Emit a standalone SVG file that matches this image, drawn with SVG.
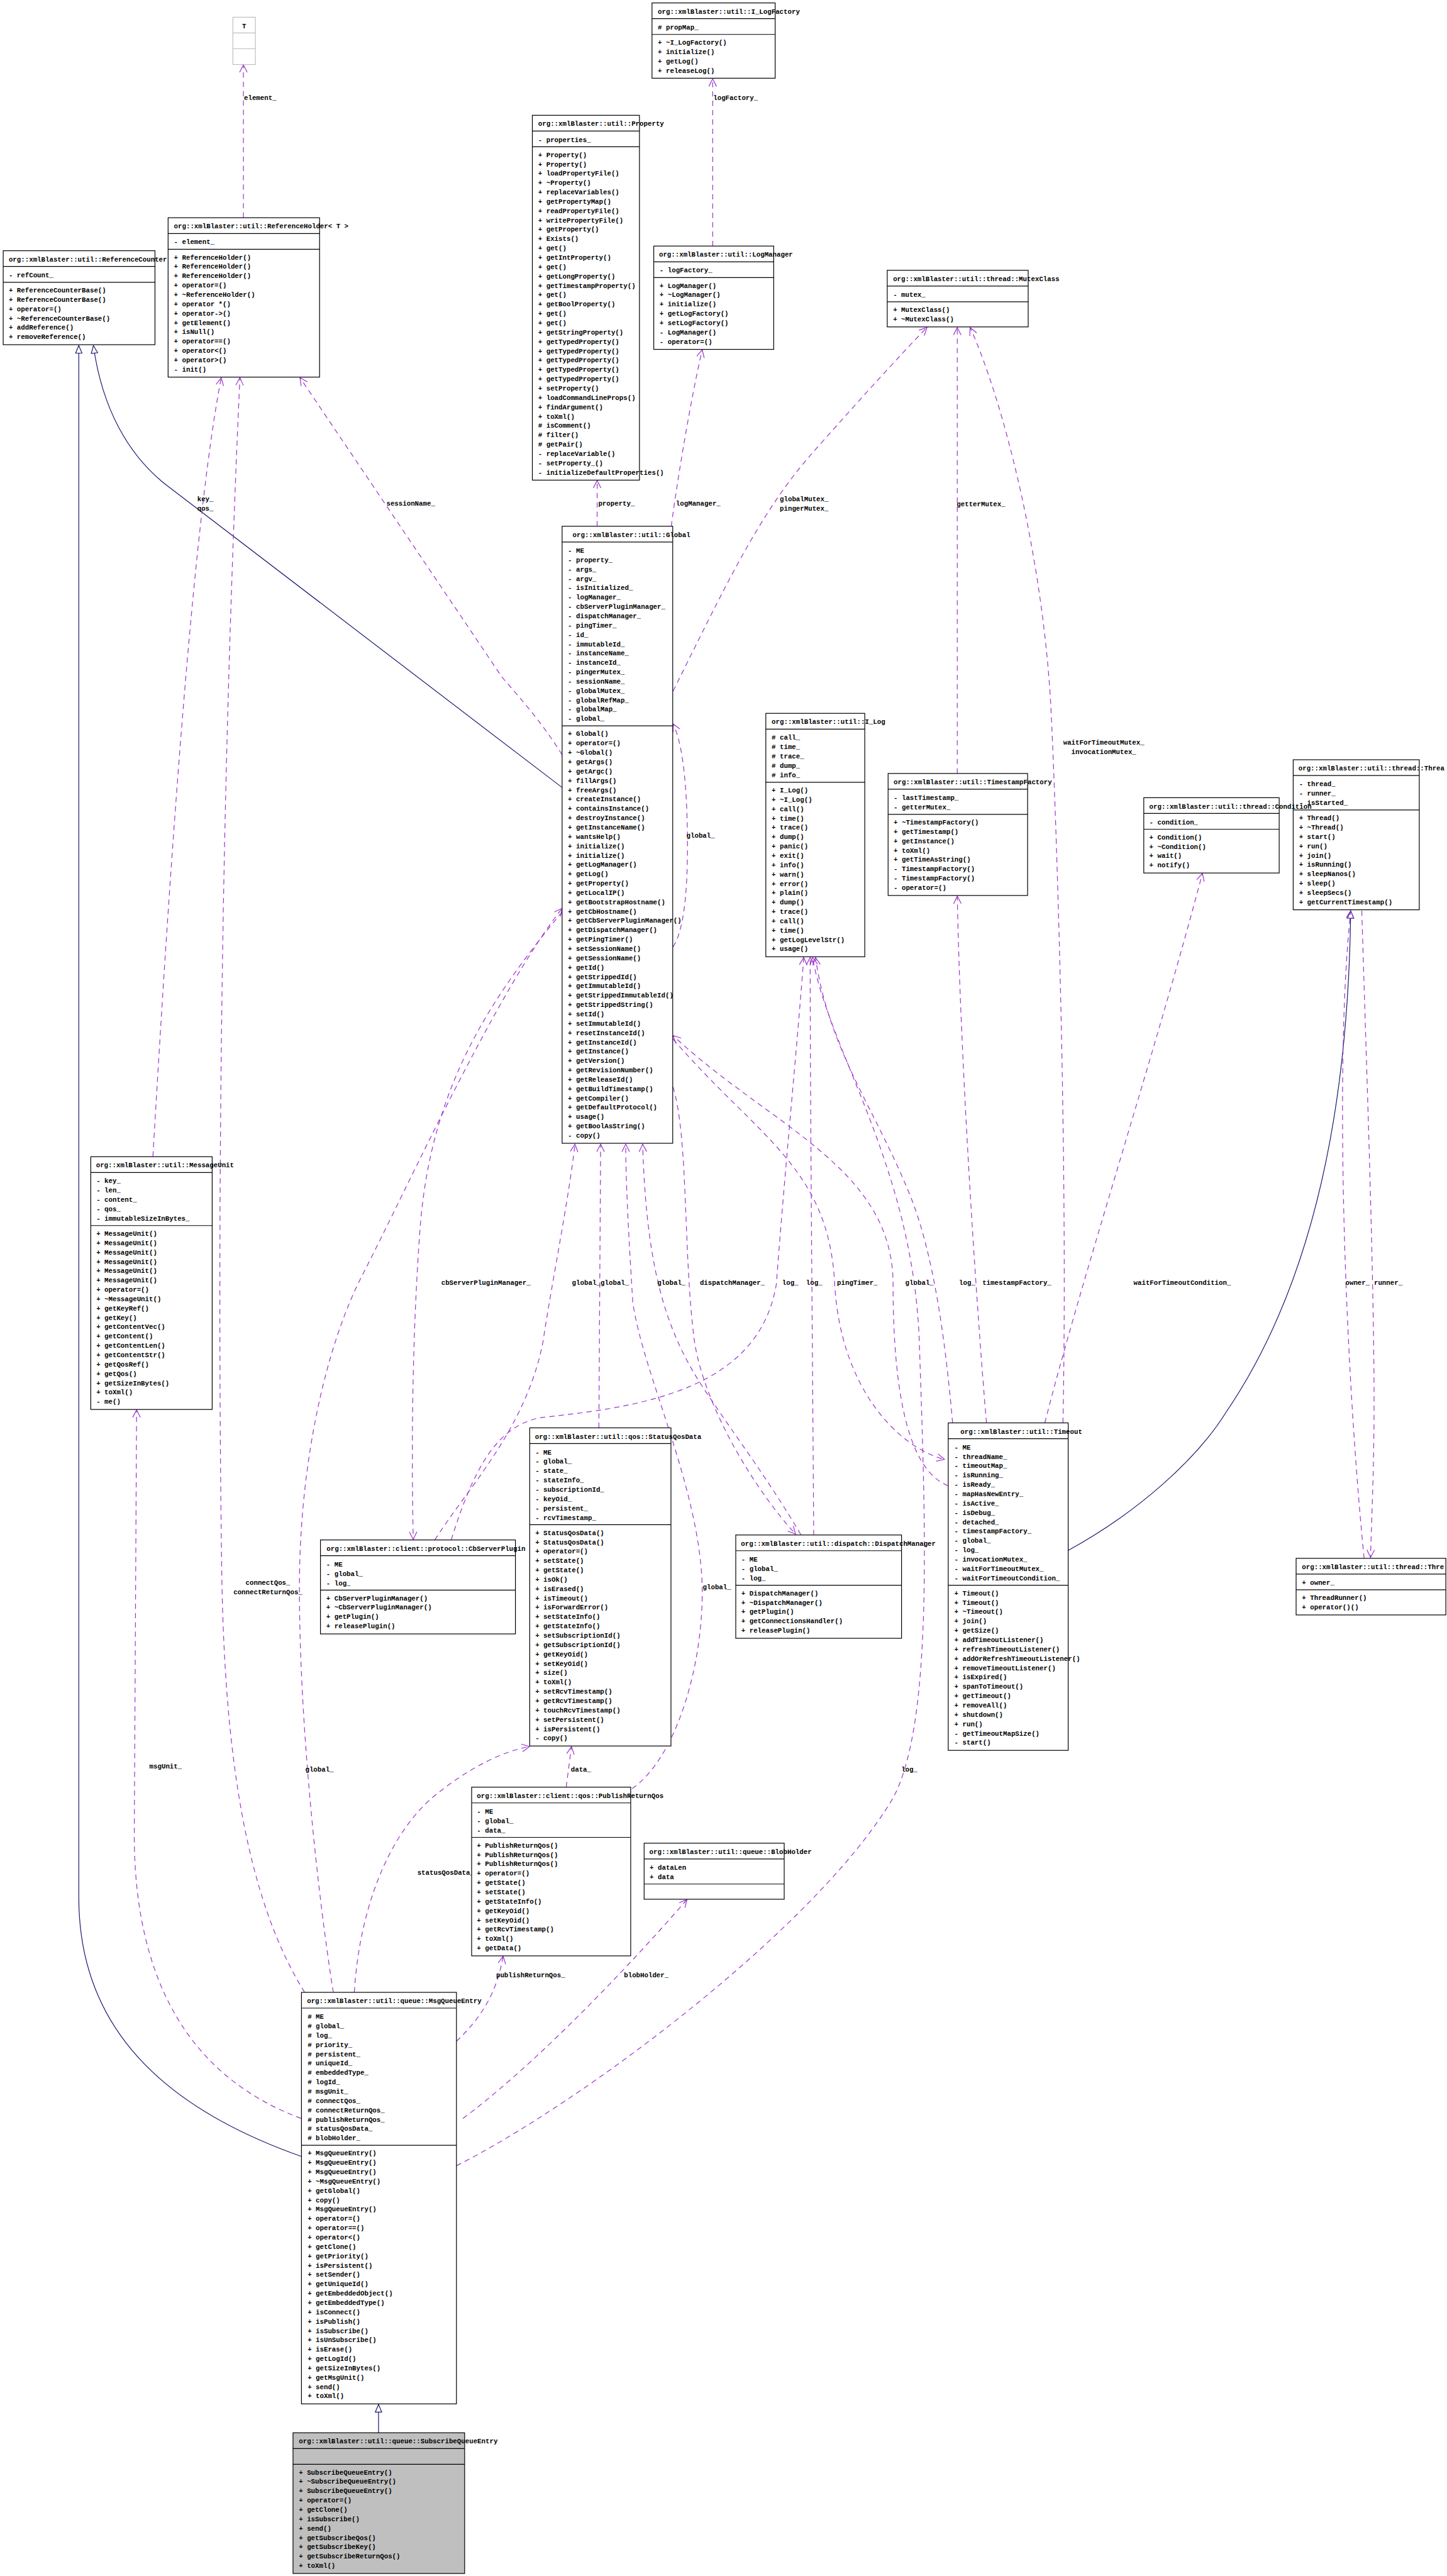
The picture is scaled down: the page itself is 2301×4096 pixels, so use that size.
<svg xmlns="http://www.w3.org/2000/svg" width="2301" height="4096" viewBox="0 0 2301 4096">
<style>
.b{fill:#fff;stroke:#000;stroke-width:1.3}
.gb{fill:#fff;stroke:#bfbfbf;stroke-width:1.3}
.sb{fill:#bfbfbf;stroke:#000;stroke-width:1.3}
.s{stroke:#000;stroke-width:1.3}
.gs{stroke:#bfbfbf;stroke-width:1.3}
.t{font-family:"Liberation Mono","DejaVu Sans Mono",monospace;font-size:11.6px;font-weight:bold;fill:#000}
.e{fill:none;stroke:#9a32cd;stroke-width:1.3;stroke-dasharray:9,7;marker-end:url(#pa)}
.i{fill:none;stroke:#191970;stroke-width:1.3;marker-end:url(#tri)}
</style>
<defs>
<marker id="pa" markerUnits="userSpaceOnUse" viewBox="0 0 16 16" markerWidth="16" markerHeight="16" refX="14" refY="8" orient="auto"><path d="M1,1.5 L14,8 L1,14.5" fill="none" stroke="#9a32cd" stroke-width="1.3"/></marker>
<marker id="tri" markerUnits="userSpaceOnUse" viewBox="0 0 16 14" markerWidth="16" markerHeight="14" refX="14" refY="7" orient="auto"><path d="M1,1.5 L14,7 L1,12.5 Z" fill="#fff" stroke="#191970" stroke-width="1.3"/></marker>
</defs>
<rect width="2301" height="4096" fill="#fff"/>
<g transform="scale(0.9282)">
<g id="connectors">
<path class="i" d="M516,3694 C250,3600 135,3450 135,3250 L135,592"/>
<path class="i" d="M963,1349 L285,831 C220,780 175,700 160,592"/>
<path class="i" d="M1830,2656 C1950,2590 2050,2500 2100,2420 C2250,2200 2310,1900 2314,1560"/>
<path class="i" d="M648.5,4167.5 L648.5,4119"/>
<path class="e" d="M417,373 L417,111"/>
<path class="e" d="M1221,421.5 L1221,135"/>
<path class="e" d="M1023,901.5 L1023,823"/>
<path class="e" d="M1150,901.5 C1158,840 1180,700 1203,599"/>
<path class="e" d="M1153,1184 C1240,1010 1300,880 1390,778 C1450,710 1540,610 1588,561"/>
<path class="e" d="M963,1293 C930,1240 895,1200 860,1160 L514,647"/>
<path class="e" d="M262,1981 C290,1500 330,900 379,647"/>
<path class="e" d="M522,3413 C420,3250 385,3000 380,2700 C374,2300 372,1500 411,647"/>
<path class="e" d="M571,3413 C545,3250 512,2950 513,2711 C514,2500 560,2300 622,2182 C700,2030 850,1700 963,1556"/>
<path class="e" d="M516,3629 C330,3560 232,3400 230,3150 L234,2415"/>
<path class="e" d="M607,3413 C615,3280 660,3150 740,3080 C800,3030 860,3000 907,2992"/>
<path class="e" d="M970,3061.5 L979,2992"/>
<path class="e" d="M1083,3064 C1160,3010 1205,2850 1203,2720 C1200,2550 1100,2350 1084,2230 C1076,2100 1072,2020 1072,1960"/>
<path class="e" d="M1026,2446 L1029,1960"/>
<path class="e" d="M745,2638 C800,2550 900,2450 930,2300 C945,2200 975,2050 985,1960"/>
<path class="e" d="M963,1562 C850,1700 740,1850 720,2100 C705,2300 705,2500 708,2637"/>
<path class="e" d="M773,2638 C810,2520 850,2440 930,2428 C1100,2410 1300,2380 1330,2200 C1345,2000 1365,1800 1377,1640"/>
<path class="e" d="M1394,2629.5 C1392,2300 1388,1900 1388,1640"/>
<path class="e" d="M1153,1862 C1180,1950 1170,2150 1190,2300 C1210,2420 1300,2560 1363,2628"/>
<path class="e" d="M1372,2629 C1320,2540 1260,2460 1220,2400 C1150,2300 1108,2200 1101,1960"/>
<path class="e" d="M1632,2437.5 C1620,2300 1600,2150 1560,2050 C1500,1900 1420,1800 1397,1640"/>
<path class="e" d="M782,3710 C1000,3600 1400,3300 1530,3080 C1600,2950 1585,2600 1575,2300 C1565,2000 1420,1800 1392,1640"/>
<path class="e" d="M1153,1780 C1300,1950 1420,2000 1430,2200 C1440,2380 1540,2480 1618,2500"/>
<path class="e" d="M1624,2545 C1560,2520 1530,2400 1530,2200 C1530,2000 1320,1930 1153,1774"/>
<path class="e" d="M1690,2437.5 C1670,2200 1645,1800 1640,1535"/>
<path class="e" d="M1790,2437.5 C1850,2200 1980,1800 2060,1496"/>
<path class="e" d="M1821,2437.5 C1830,2000 1810,1400 1800,1204 C1785,950 1720,690 1662,561"/>
<path class="e" d="M1640,1325 L1640,561"/>
<path class="e" d="M1153,1622 C1175,1590 1180,1500 1177,1400 C1175,1330 1168,1270 1153,1240"/>
<path class="e" d="M2337,2669.5 C2320,2500 2300,2200 2300,1900 C2300,1700 2310,1600 2314,1560"/>
<path class="e" d="M2333,1560 C2340,1800 2355,2200 2354,2430 C2353,2550 2349,2620 2348,2668"/>
<path class="e" d="M782,3497 C820,3460 850,3420 862,3351"/>
<path class="e" d="M793,3629 C900,3550 1050,3400 1177,3254"/>
<g class="t">
<text x="418" y="171">element_</text>
<text x="1222" y="171">logFactory_</text>
<text x="1025" y="866">property_</text>
<text x="1158" y="866">logManager_</text>
<text x="1336" y="859">globalMutex_</text>
<text x="1336" y="875">pingerMutex_</text>
<text x="662" y="866">sessionName_</text>
<text x="338" y="859">key_</text>
<text x="338" y="875">qos_</text>
<text x="1639" y="867">getterMutex_</text>
<text x="1891" y="1276" text-anchor="middle">waitForTimeoutMutex_</text>
<text x="1891" y="1292" text-anchor="middle">invocationMutex_</text>
<text x="1176" y="1435">global_</text>
<text x="756" y="2201">cbServerPluginManager_</text>
<text x="980" y="2201">global_</text>
<text x="1029" y="2201">global_</text>
<text x="1126" y="2201">global_</text>
<text x="1199" y="2201">dispatchManager_</text>
<text x="1340" y="2201">log_</text>
<text x="1381" y="2201">log_</text>
<text x="1434" y="2201">pingTimer_</text>
<text x="1551" y="2201">global_</text>
<text x="1643" y="2201">log_</text>
<text x="1683" y="2201">timestampFactory_</text>
<text x="1942" y="2201">waitForTimeoutCondition_</text>
<text x="2305" y="2201">owner_</text>
<text x="2354" y="2201">runner_</text>
<text x="459" y="2715" text-anchor="middle">connectQos_</text>
<text x="459" y="2731" text-anchor="middle">connectReturnQos_</text>
<text x="1204" y="2723">global_</text>
<text x="256" y="3029">msgUnit_</text>
<text x="523" y="3035">global_</text>
<text x="978" y="3035">data_</text>
<text x="1544" y="3035">log_</text>
<text x="715" y="3212">statusQosData_</text>
<text x="850" y="3387">publishReturnQos_</text>
<text x="1069" y="3387">blobHolder_</text>
</g>
</g>
<g id="T">
<rect class="gb" x="399" y="29.5" width="38.5" height="81"/>
<line class="gs" x1="399" y1="56.5" x2="437.5" y2="56.5"/>
<line class="gs" x1="399" y1="83.5" x2="437.5" y2="83.5"/>
<text class="t" x="418.25" y="48" text-anchor="middle">T</text>
</g>
<g id="I_LogFactory">
<rect class="b" x="1117" y="5" width="211" height="129"/>
<line class="s" x1="1117" y1="32" x2="1328" y2="32"/>
<line class="s" x1="1117" y1="59" x2="1328" y2="59"/>
<text class="t" x="1127" y="23.5">org::xmlBlaster::util::I_LogFactory</text>
<text class="t" x="1127" y="50.5"># propMap_</text>
<text class="t"><tspan x="1127" y="76.5">+ ~I_LogFactory()</tspan><tspan x="1127" dy="16">+ initialize()</tspan><tspan x="1127" dy="16">+ getLog()</tspan><tspan x="1127" dy="16">+ releaseLog()</tspan></text>
</g>
<g id="Property">
<rect class="b" x="912" y="197.5" width="183.5" height="625"/>
<line class="s" x1="912" y1="224.5" x2="1095.5" y2="224.5"/>
<line class="s" x1="912" y1="251.5" x2="1095.5" y2="251.5"/>
<text class="t" x="922" y="216">org::xmlBlaster::util::Property</text>
<text class="t" x="922" y="243">- properties_</text>
<text class="t"><tspan x="922" y="269">+ Property()</tspan><tspan x="922" dy="16">+ Property()</tspan><tspan x="922" dy="16">+ loadPropertyFile()</tspan><tspan x="922" dy="16">+ ~Property()</tspan><tspan x="922" dy="16">+ replaceVariables()</tspan><tspan x="922" dy="16">+ getPropertyMap()</tspan><tspan x="922" dy="16">+ readPropertyFile()</tspan><tspan x="922" dy="16">+ writePropertyFile()</tspan><tspan x="922" dy="16">+ getProperty()</tspan><tspan x="922" dy="16">+ Exists()</tspan><tspan x="922" dy="16">+ get()</tspan><tspan x="922" dy="16">+ getIntProperty()</tspan><tspan x="922" dy="16">+ get()</tspan><tspan x="922" dy="16">+ getLongProperty()</tspan><tspan x="922" dy="16">+ getTimestampProperty()</tspan><tspan x="922" dy="16">+ get()</tspan><tspan x="922" dy="16">+ getBoolProperty()</tspan><tspan x="922" dy="16">+ get()</tspan><tspan x="922" dy="16">+ get()</tspan><tspan x="922" dy="16">+ getStringProperty()</tspan><tspan x="922" dy="16">+ getTypedProperty()</tspan><tspan x="922" dy="16">+ getTypedProperty()</tspan><tspan x="922" dy="16">+ getTypedProperty()</tspan><tspan x="922" dy="16">+ getTypedProperty()</tspan><tspan x="922" dy="16">+ getTypedProperty()</tspan><tspan x="922" dy="16">+ setProperty()</tspan><tspan x="922" dy="16">+ loadCommandLineProps()</tspan><tspan x="922" dy="16">+ findArgument()</tspan><tspan x="922" dy="16">+ toXml()</tspan><tspan x="922" dy="16"># isComment()</tspan><tspan x="922" dy="16"># filter()</tspan><tspan x="922" dy="16"># getPair()</tspan><tspan x="922" dy="16">- replaceVariable()</tspan><tspan x="922" dy="16">- setProperty_()</tspan><tspan x="922" dy="16">- initializeDefaultProperties()</tspan></text>
</g>
<g id="ReferenceCounterBase">
<rect class="b" x="5.5" y="429.5" width="260" height="161"/>
<line class="s" x1="5.5" y1="456.5" x2="265.5" y2="456.5"/>
<line class="s" x1="5.5" y1="483.5" x2="265.5" y2="483.5"/>
<text class="t" x="15" y="448">org::xmlBlaster::util::ReferenceCounter</text>
<text class="t" x="15" y="475">- refCount_</text>
<text class="t"><tspan x="15" y="501">+ ReferenceCounterBase()</tspan><tspan x="15" dy="16">+ ReferenceCounterBase()</tspan><tspan x="15" dy="16">+ operator=()</tspan><tspan x="15" dy="16">+ ~ReferenceCounterBase()</tspan><tspan x="15" dy="16">+ addReference()</tspan><tspan x="15" dy="16">+ removeReference()</tspan></text>
</g>
<g id="ReferenceHolder">
<rect class="b" x="288" y="373" width="259.5" height="273"/>
<line class="s" x1="288" y1="400" x2="547.5" y2="400"/>
<line class="s" x1="288" y1="427" x2="547.5" y2="427"/>
<text class="t" x="298" y="391.5">org::xmlBlaster::util::ReferenceHolder&lt; T &gt;</text>
<text class="t" x="298" y="418.5">- element_</text>
<text class="t"><tspan x="298" y="444.5">+ ReferenceHolder()</tspan><tspan x="298" dy="16">+ ReferenceHolder()</tspan><tspan x="298" dy="16">+ ReferenceHolder()</tspan><tspan x="298" dy="16">+ operator=()</tspan><tspan x="298" dy="16">+ ~ReferenceHolder()</tspan><tspan x="298" dy="16">+ operator *()</tspan><tspan x="298" dy="16">+ operator-&gt;()</tspan><tspan x="298" dy="16">+ getElement()</tspan><tspan x="298" dy="16">+ isNull()</tspan><tspan x="298" dy="16">+ operator==()</tspan><tspan x="298" dy="16">+ operator&lt;()</tspan><tspan x="298" dy="16">+ operator&gt;()</tspan><tspan x="298" dy="16">- init()</tspan></text>
</g>
<g id="LogManager">
<rect class="b" x="1120" y="421.5" width="205.5" height="177"/>
<line class="s" x1="1120" y1="448.5" x2="1325.5" y2="448.5"/>
<line class="s" x1="1120" y1="475.5" x2="1325.5" y2="475.5"/>
<text class="t" x="1129" y="440">org::xmlBlaster::util::LogManager</text>
<text class="t" x="1130" y="467">- logFactory_</text>
<text class="t"><tspan x="1130" y="493">+ LogManager()</tspan><tspan x="1130" dy="16">+ ~LogManager()</tspan><tspan x="1130" dy="16">+ initialize()</tspan><tspan x="1130" dy="16">+ getLogFactory()</tspan><tspan x="1130" dy="16">+ setLogFactory()</tspan><tspan x="1130" dy="16">- LogManager()</tspan><tspan x="1130" dy="16">- operator=()</tspan></text>
</g>
<g id="MutexClass">
<rect class="b" x="1520" y="463" width="241.5" height="97"/>
<line class="s" x1="1520" y1="490" x2="1761.5" y2="490"/>
<line class="s" x1="1520" y1="517" x2="1761.5" y2="517"/>
<text class="t" x="1530" y="481.5">org::xmlBlaster::util::thread::MutexClass</text>
<text class="t" x="1530" y="508.5">- mutex_</text>
<text class="t"><tspan x="1530" y="534.5">+ MutexClass()</tspan><tspan x="1530" dy="16">+ ~MutexClass()</tspan></text>
</g>
<g id="TimestampFactory">
<rect class="b" x="1521.5" y="1325" width="239" height="209"/>
<line class="s" x1="1521.5" y1="1352" x2="1760.5" y2="1352"/>
<line class="s" x1="1521.5" y1="1395" x2="1760.5" y2="1395"/>
<text class="t" x="1531" y="1343.5">org::xmlBlaster::util::TimestampFactory</text>
<text class="t"><tspan x="1531" y="1370.5">- lastTimestamp_</tspan><tspan x="1531" dy="16">- getterMutex_</tspan></text>
<text class="t"><tspan x="1531" y="1412.5">+ ~TimestampFactory()</tspan><tspan x="1531" dy="16">+ getTimestamp()</tspan><tspan x="1531" dy="16">+ getInstance()</tspan><tspan x="1531" dy="16">+ toXml()</tspan><tspan x="1531" dy="16">+ getTimeAsString()</tspan><tspan x="1531" dy="16">- TimestampFactory()</tspan><tspan x="1531" dy="16">- TimestampFactory()</tspan><tspan x="1531" dy="16">- operator=()</tspan></text>
</g>
<g id="Global">
<rect class="b" x="963" y="901.5" width="189.5" height="1057"/>
<line class="s" x1="963" y1="928.5" x2="1152.5" y2="928.5"/>
<line class="s" x1="963" y1="1243.5" x2="1152.5" y2="1243.5"/>
<text class="t" x="981" y="920">org::xmlBlaster::util::Global</text>
<text class="t"><tspan x="973" y="947">- ME</tspan><tspan x="973" dy="16">- property_</tspan><tspan x="973" dy="16">- args_</tspan><tspan x="973" dy="16">- argv_</tspan><tspan x="973" dy="16">- isInitialized_</tspan><tspan x="973" dy="16">- logManager_</tspan><tspan x="973" dy="16">- cbServerPluginManager_</tspan><tspan x="973" dy="16">- dispatchManager_</tspan><tspan x="973" dy="16">- pingTimer_</tspan><tspan x="973" dy="16">- id_</tspan><tspan x="973" dy="16">- immutableId_</tspan><tspan x="973" dy="16">- instanceName_</tspan><tspan x="973" dy="16">- instanceId_</tspan><tspan x="973" dy="16">- pingerMutex_</tspan><tspan x="973" dy="16">- sessionName_</tspan><tspan x="973" dy="16">- globalMutex_</tspan><tspan x="973" dy="16">- globalRefMap_</tspan><tspan x="973" dy="16">- globalMap_</tspan><tspan x="973" dy="16">- global_</tspan></text>
<text class="t"><tspan x="973" y="1261">+ Global()</tspan><tspan x="973" dy="16">+ operator=()</tspan><tspan x="973" dy="16">+ ~Global()</tspan><tspan x="973" dy="16">+ getArgs()</tspan><tspan x="973" dy="16">+ getArgc()</tspan><tspan x="973" dy="16">+ fillArgs()</tspan><tspan x="973" dy="16">+ freeArgs()</tspan><tspan x="973" dy="16">+ createInstance()</tspan><tspan x="973" dy="16">+ containsInstance()</tspan><tspan x="973" dy="16">+ destroyInstance()</tspan><tspan x="973" dy="16">+ getInstanceName()</tspan><tspan x="973" dy="16">+ wantsHelp()</tspan><tspan x="973" dy="16">+ initialize()</tspan><tspan x="973" dy="16">+ initialize()</tspan><tspan x="973" dy="16">+ getLogManager()</tspan><tspan x="973" dy="16">+ getLog()</tspan><tspan x="973" dy="16">+ getProperty()</tspan><tspan x="973" dy="16">+ getLocalIP()</tspan><tspan x="973" dy="16">+ getBootstrapHostname()</tspan><tspan x="973" dy="16">+ getCbHostname()</tspan><tspan x="973" dy="16">+ getCbServerPluginManager()</tspan><tspan x="973" dy="16">+ getDispatchManager()</tspan><tspan x="973" dy="16">+ getPingTimer()</tspan><tspan x="973" dy="16">+ setSessionName()</tspan><tspan x="973" dy="16">+ getSessionName()</tspan><tspan x="973" dy="16">+ getId()</tspan><tspan x="973" dy="16">+ getStrippedId()</tspan><tspan x="973" dy="16">+ getImmutableId()</tspan><tspan x="973" dy="16">+ getStrippedImmutableId()</tspan><tspan x="973" dy="16">+ getStrippedString()</tspan><tspan x="973" dy="16">+ setId()</tspan><tspan x="973" dy="16">+ setImmutableId()</tspan><tspan x="973" dy="16">+ resetInstanceId()</tspan><tspan x="973" dy="16">+ getInstanceId()</tspan><tspan x="973" dy="16">+ getInstance()</tspan><tspan x="973" dy="16">+ getVersion()</tspan><tspan x="973" dy="16">+ getRevisionNumber()</tspan><tspan x="973" dy="16">+ getReleaseId()</tspan><tspan x="973" dy="16">+ getBuildTimestamp()</tspan><tspan x="973" dy="16">+ getCompiler()</tspan><tspan x="973" dy="16">+ getDefaultProtocol()</tspan><tspan x="973" dy="16">+ usage()</tspan><tspan x="973" dy="16">+ getBoolAsString()</tspan><tspan x="973" dy="16">- copy()</tspan></text>
</g>
<g id="I_Log">
<rect class="b" x="1312" y="1222" width="169.5" height="417"/>
<line class="s" x1="1312" y1="1249" x2="1481.5" y2="1249"/>
<line class="s" x1="1312" y1="1340" x2="1481.5" y2="1340"/>
<text class="t" x="1322" y="1240.5">org::xmlBlaster::util::I_Log</text>
<text class="t"><tspan x="1322" y="1267.5"># call_</tspan><tspan x="1322" dy="16"># time_</tspan><tspan x="1322" dy="16"># trace_</tspan><tspan x="1322" dy="16"># dump_</tspan><tspan x="1322" dy="16"># info_</tspan></text>
<text class="t"><tspan x="1322" y="1357.5">+ I_Log()</tspan><tspan x="1322" dy="16">+ ~I_Log()</tspan><tspan x="1322" dy="16">+ call()</tspan><tspan x="1322" dy="16">+ time()</tspan><tspan x="1322" dy="16">+ trace()</tspan><tspan x="1322" dy="16">+ dump()</tspan><tspan x="1322" dy="16">+ panic()</tspan><tspan x="1322" dy="16">+ exit()</tspan><tspan x="1322" dy="16">+ info()</tspan><tspan x="1322" dy="16">+ warn()</tspan><tspan x="1322" dy="16">+ error()</tspan><tspan x="1322" dy="16">+ plain()</tspan><tspan x="1322" dy="16">+ dump()</tspan><tspan x="1322" dy="16">+ trace()</tspan><tspan x="1322" dy="16">+ call()</tspan><tspan x="1322" dy="16">+ time()</tspan><tspan x="1322" dy="16">+ getLogLevelStr()</tspan><tspan x="1322" dy="16">+ usage()</tspan></text>
</g>
<g id="Thread">
<rect class="b" x="2215.5" y="1301.5" width="216" height="257"/>
<line class="s" x1="2215.5" y1="1328.5" x2="2431.5" y2="1328.5"/>
<line class="s" x1="2215.5" y1="1387.5" x2="2431.5" y2="1387.5"/>
<text class="t" x="2224.5" y="1320">org::xmlBlaster::util::thread::Threa</text>
<text class="t"><tspan x="2225.5" y="1347">- thread_</tspan><tspan x="2225.5" dy="16">- runner_</tspan><tspan x="2225.5" dy="16">- isStarted_</tspan></text>
<text class="t"><tspan x="2225.5" y="1405">+ Thread()</tspan><tspan x="2225.5" dy="16">+ ~Thread()</tspan><tspan x="2225.5" dy="16">+ start()</tspan><tspan x="2225.5" dy="16">+ run()</tspan><tspan x="2225.5" dy="16">+ join()</tspan><tspan x="2225.5" dy="16">+ isRunning()</tspan><tspan x="2225.5" dy="16">+ sleepNanos()</tspan><tspan x="2225.5" dy="16">+ sleep()</tspan><tspan x="2225.5" dy="16">+ sleepSecs()</tspan><tspan x="2225.5" dy="16">+ getCurrentTimestamp()</tspan></text>
</g>
<g id="Condition">
<rect class="b" x="1959.5" y="1366.5" width="232" height="129"/>
<line class="s" x1="1959.5" y1="1393.5" x2="2191.5" y2="1393.5"/>
<line class="s" x1="1959.5" y1="1420.5" x2="2191.5" y2="1420.5"/>
<text class="t" x="1969" y="1385">org::xmlBlaster::util::thread::Condition</text>
<text class="t" x="1969" y="1412">- condition_</text>
<text class="t"><tspan x="1969" y="1438">+ Condition()</tspan><tspan x="1969" dy="16">+ ~Condition()</tspan><tspan x="1969" dy="16">+ wait()</tspan><tspan x="1969" dy="16">+ notify()</tspan></text>
</g>
<g id="MessageUnit">
<rect class="b" x="155.5" y="1981.5" width="208" height="433"/>
<line class="s" x1="155.5" y1="2008.5" x2="363.5" y2="2008.5"/>
<line class="s" x1="155.5" y1="2099.5" x2="363.5" y2="2099.5"/>
<text class="t" x="164.5" y="2000">org::xmlBlaster::util::MessageUnit</text>
<text class="t"><tspan x="165" y="2027">- key_</tspan><tspan x="165" dy="16">- len_</tspan><tspan x="165" dy="16">- content_</tspan><tspan x="165" dy="16">- qos_</tspan><tspan x="165" dy="16">- immutableSizeInBytes_</tspan></text>
<text class="t"><tspan x="165" y="2117">+ MessageUnit()</tspan><tspan x="165" dy="16">+ MessageUnit()</tspan><tspan x="165" dy="16">+ MessageUnit()</tspan><tspan x="165" dy="16">+ MessageUnit()</tspan><tspan x="165" dy="16">+ MessageUnit()</tspan><tspan x="165" dy="16">+ MessageUnit()</tspan><tspan x="165" dy="16">+ operator=()</tspan><tspan x="165" dy="16">+ ~MessageUnit()</tspan><tspan x="165" dy="16">+ getKeyRef()</tspan><tspan x="165" dy="16">+ getKey()</tspan><tspan x="165" dy="16">+ getContentVec()</tspan><tspan x="165" dy="16">+ getContent()</tspan><tspan x="165" dy="16">+ getContentLen()</tspan><tspan x="165" dy="16">+ getContentStr()</tspan><tspan x="165" dy="16">+ getQosRef()</tspan><tspan x="165" dy="16">+ getQos()</tspan><tspan x="165" dy="16">+ getSizeInBytes()</tspan><tspan x="165" dy="16">+ toXml()</tspan><tspan x="165" dy="16">- me()</tspan></text>
</g>
<g id="CbServerPluginManager">
<rect class="b" x="549" y="2638" width="334" height="161"/>
<line class="s" x1="549" y1="2665" x2="883" y2="2665"/>
<line class="s" x1="549" y1="2724" x2="883" y2="2724"/>
<text class="t" x="559.5" y="2656.5">org::xmlBlaster::client::protocol::CbServerPlugin</text>
<text class="t"><tspan x="559" y="2683.5">- ME</tspan><tspan x="559" dy="16">- global_</tspan><tspan x="559" dy="16">- log_</tspan></text>
<text class="t"><tspan x="559" y="2741.5">+ CbServerPluginManager()</tspan><tspan x="559" dy="16">+ ~CbServerPluginManager()</tspan><tspan x="559" dy="16">+ getPlugin()</tspan><tspan x="559" dy="16">+ releasePlugin()</tspan></text>
</g>
<g id="StatusQosData">
<rect class="b" x="907.5" y="2446" width="242" height="545"/>
<line class="s" x1="907.5" y1="2473" x2="1149.5" y2="2473"/>
<line class="s" x1="907.5" y1="2612" x2="1149.5" y2="2612"/>
<text class="t" x="916.5" y="2464.5">org::xmlBlaster::util::qos::StatusQosData</text>
<text class="t"><tspan x="917" y="2491.5">- ME</tspan><tspan x="917" dy="16">- global_</tspan><tspan x="917" dy="16">- state_</tspan><tspan x="917" dy="16">- stateInfo_</tspan><tspan x="917" dy="16">- subscriptionId_</tspan><tspan x="917" dy="16">- keyOid_</tspan><tspan x="917" dy="16">- persistent_</tspan><tspan x="917" dy="16">- rcvTimestamp_</tspan></text>
<text class="t"><tspan x="917" y="2629.5">+ StatusQosData()</tspan><tspan x="917" dy="16">+ StatusQosData()</tspan><tspan x="917" dy="16">+ operator=()</tspan><tspan x="917" dy="16">+ setState()</tspan><tspan x="917" dy="16">+ getState()</tspan><tspan x="917" dy="16">+ isOk()</tspan><tspan x="917" dy="16">+ isErased()</tspan><tspan x="917" dy="16">+ isTimeout()</tspan><tspan x="917" dy="16">+ isForwardError()</tspan><tspan x="917" dy="16">+ setStateInfo()</tspan><tspan x="917" dy="16">+ getStateInfo()</tspan><tspan x="917" dy="16">+ setSubscriptionId()</tspan><tspan x="917" dy="16">+ getSubscriptionId()</tspan><tspan x="917" dy="16">+ getKeyOid()</tspan><tspan x="917" dy="16">+ setKeyOid()</tspan><tspan x="917" dy="16">+ size()</tspan><tspan x="917" dy="16">+ toXml()</tspan><tspan x="917" dy="16">+ setRcvTimestamp()</tspan><tspan x="917" dy="16">+ getRcvTimestamp()</tspan><tspan x="917" dy="16">+ touchRcvTimestamp()</tspan><tspan x="917" dy="16">+ setPersistent()</tspan><tspan x="917" dy="16">+ isPersistent()</tspan><tspan x="917" dy="16">- copy()</tspan></text>
</g>
<g id="DispatchManager">
<rect class="b" x="1260.5" y="2629.5" width="284" height="177"/>
<line class="s" x1="1260.5" y1="2656.5" x2="1544.5" y2="2656.5"/>
<line class="s" x1="1260.5" y1="2715.5" x2="1544.5" y2="2715.5"/>
<text class="t" x="1269.5" y="2648">org::xmlBlaster::util::dispatch::DispatchManager</text>
<text class="t"><tspan x="1270" y="2675">- ME</tspan><tspan x="1270" dy="16">- global_</tspan><tspan x="1270" dy="16">- log_</tspan></text>
<text class="t"><tspan x="1270" y="2733">+ DispatchManager()</tspan><tspan x="1270" dy="16">+ ~DispatchManager()</tspan><tspan x="1270" dy="16">+ getPlugin()</tspan><tspan x="1270" dy="16">+ getConnectionsHandler()</tspan><tspan x="1270" dy="16">+ releasePlugin()</tspan></text>
</g>
<g id="Timeout">
<rect class="b" x="1624.5" y="2437.5" width="205.5" height="561"/>
<line class="s" x1="1624.5" y1="2464.5" x2="1830" y2="2464.5"/>
<line class="s" x1="1624.5" y1="2715.5" x2="1830" y2="2715.5"/>
<text class="t" x="1645.5" y="2456">org::xmlBlaster::util::Timeout</text>
<text class="t"><tspan x="1635" y="2483">- ME</tspan><tspan x="1635" dy="16">- threadName_</tspan><tspan x="1635" dy="16">- timeoutMap_</tspan><tspan x="1635" dy="16">- isRunning_</tspan><tspan x="1635" dy="16">- isReady_</tspan><tspan x="1635" dy="16">- mapHasNewEntry_</tspan><tspan x="1635" dy="16">- isActive_</tspan><tspan x="1635" dy="16">- isDebug_</tspan><tspan x="1635" dy="16">- detached_</tspan><tspan x="1635" dy="16">- timestampFactory_</tspan><tspan x="1635" dy="16">- global_</tspan><tspan x="1635" dy="16">- log_</tspan><tspan x="1635" dy="16">- invocationMutex_</tspan><tspan x="1635" dy="16">- waitForTimeoutMutex_</tspan><tspan x="1635" dy="16">- waitForTimeoutCondition_</tspan></text>
<text class="t"><tspan x="1635" y="2733">+ Timeout()</tspan><tspan x="1635" dy="16">+ Timeout()</tspan><tspan x="1635" dy="16">+ ~Timeout()</tspan><tspan x="1635" dy="16">+ join()</tspan><tspan x="1635" dy="16">+ getSize()</tspan><tspan x="1635" dy="16">+ addTimeoutListener()</tspan><tspan x="1635" dy="16">+ refreshTimeoutListener()</tspan><tspan x="1635" dy="16">+ addOrRefreshTimeoutListener()</tspan><tspan x="1635" dy="16">+ removeTimeoutListener()</tspan><tspan x="1635" dy="16">+ isExpired()</tspan><tspan x="1635" dy="16">+ spanToTimeout()</tspan><tspan x="1635" dy="16">+ getTimeout()</tspan><tspan x="1635" dy="16">+ removeAll()</tspan><tspan x="1635" dy="16">+ shutdown()</tspan><tspan x="1635" dy="16">+ run()</tspan><tspan x="1635" dy="16">- getTimeoutMapSize()</tspan><tspan x="1635" dy="16">- start()</tspan></text>
</g>
<g id="ThreadRunner">
<rect class="b" x="2220.5" y="2669.5" width="256.5" height="97"/>
<line class="s" x1="2220.5" y1="2696.5" x2="2477" y2="2696.5"/>
<line class="s" x1="2220.5" y1="2723.5" x2="2477" y2="2723.5"/>
<text class="t" x="2230.5" y="2688">org::xmlBlaster::util::thread::Thre</text>
<text class="t" x="2230.5" y="2715">+ owner_</text>
<text class="t"><tspan x="2230.5" y="2741">+ ThreadRunner()</tspan><tspan x="2230.5" dy="16">+ operator()()</tspan></text>
</g>
<g id="PublishReturnQos">
<rect class="b" x="808" y="3061.5" width="272.5" height="289"/>
<line class="s" x1="808" y1="3088.5" x2="1080.5" y2="3088.5"/>
<line class="s" x1="808" y1="3147.5" x2="1080.5" y2="3147.5"/>
<text class="t" x="817" y="3080">org::xmlBlaster::client::qos::PublishReturnQos</text>
<text class="t"><tspan x="817" y="3107">- ME</tspan><tspan x="817" dy="16">- global_</tspan><tspan x="817" dy="16">- data_</tspan></text>
<text class="t"><tspan x="817" y="3165">+ PublishReturnQos()</tspan><tspan x="817" dy="16">+ PublishReturnQos()</tspan><tspan x="817" dy="16">+ PublishReturnQos()</tspan><tspan x="817" dy="16">+ operator=()</tspan><tspan x="817" dy="16">+ getState()</tspan><tspan x="817" dy="16">+ setState()</tspan><tspan x="817" dy="16">+ getStateInfo()</tspan><tspan x="817" dy="16">+ getKeyOid()</tspan><tspan x="817" dy="16">+ setKeyOid()</tspan><tspan x="817" dy="16">+ getRcvTimestamp()</tspan><tspan x="817" dy="16">+ toXml()</tspan><tspan x="817" dy="16">+ getData()</tspan></text>
</g>
<g id="BlobHolder">
<rect class="b" x="1103.5" y="3157.5" width="240" height="96"/>
<line class="s" x1="1103.5" y1="3184.5" x2="1343.5" y2="3184.5"/>
<line class="s" x1="1103.5" y1="3227.5" x2="1343.5" y2="3227.5"/>
<text class="t" x="1112.5" y="3176">org::xmlBlaster::util::queue::BlobHolder</text>
<text class="t"><tspan x="1113" y="3203">+ dataLen</tspan><tspan x="1113" dy="16">+ data</tspan></text>
</g>
<g id="MsgQueueEntry">
<rect class="b" x="516.5" y="3413" width="265.5" height="705"/>
<line class="s" x1="516.5" y1="3440" x2="782" y2="3440"/>
<line class="s" x1="516.5" y1="3675" x2="782" y2="3675"/>
<text class="t" x="526" y="3431.5">org::xmlBlaster::util::queue::MsgQueueEntry</text>
<text class="t"><tspan x="527" y="3458.5"># ME</tspan><tspan x="527" dy="16"># global_</tspan><tspan x="527" dy="16"># log_</tspan><tspan x="527" dy="16"># priority_</tspan><tspan x="527" dy="16"># persistent_</tspan><tspan x="527" dy="16"># uniqueId_</tspan><tspan x="527" dy="16"># embeddedType_</tspan><tspan x="527" dy="16"># logId_</tspan><tspan x="527" dy="16"># msgUnit_</tspan><tspan x="527" dy="16"># connectQos_</tspan><tspan x="527" dy="16"># connectReturnQos_</tspan><tspan x="527" dy="16"># publishReturnQos_</tspan><tspan x="527" dy="16"># statusQosData_</tspan><tspan x="527" dy="16"># blobHolder_</tspan></text>
<text class="t"><tspan x="527" y="3692.5">+ MsgQueueEntry()</tspan><tspan x="527" dy="16">+ MsgQueueEntry()</tspan><tspan x="527" dy="16">+ MsgQueueEntry()</tspan><tspan x="527" dy="16">+ ~MsgQueueEntry()</tspan><tspan x="527" dy="16">+ getGlobal()</tspan><tspan x="527" dy="16">+ copy()</tspan><tspan x="527" dy="16">+ MsgQueueEntry()</tspan><tspan x="527" dy="16">+ operator=()</tspan><tspan x="527" dy="16">+ operator==()</tspan><tspan x="527" dy="16">+ operator&lt;()</tspan><tspan x="527" dy="16">+ getClone()</tspan><tspan x="527" dy="16">+ getPriority()</tspan><tspan x="527" dy="16">+ isPersistent()</tspan><tspan x="527" dy="16">+ setSender()</tspan><tspan x="527" dy="16">+ getUniqueId()</tspan><tspan x="527" dy="16">+ getEmbeddedObject()</tspan><tspan x="527" dy="16">+ getEmbeddedType()</tspan><tspan x="527" dy="16">+ isConnect()</tspan><tspan x="527" dy="16">+ isPublish()</tspan><tspan x="527" dy="16">+ isSubscribe()</tspan><tspan x="527" dy="16">+ isUnSubscribe()</tspan><tspan x="527" dy="16">+ isErase()</tspan><tspan x="527" dy="16">+ getLogId()</tspan><tspan x="527" dy="16">+ getSizeInBytes()</tspan><tspan x="527" dy="16">+ getMsgUnit()</tspan><tspan x="527" dy="16">+ send()</tspan><tspan x="527" dy="16">+ toXml()</tspan></text>
</g>
<g id="SubscribeQueueEntry">
<rect class="sb" x="502" y="4167.5" width="294" height="241"/>
<line class="s" x1="502" y1="4194.5" x2="796" y2="4194.5"/>
<line class="s" x1="502" y1="4221.5" x2="796" y2="4221.5"/>
<text class="t" x="512" y="4186">org::xmlBlaster::util::queue::SubscribeQueueEntry</text>
<text class="t"><tspan x="512" y="4239">+ SubscribeQueueEntry()</tspan><tspan x="512" dy="16">+ ~SubscribeQueueEntry()</tspan><tspan x="512" dy="16">+ SubscribeQueueEntry()</tspan><tspan x="512" dy="16">+ operator=()</tspan><tspan x="512" dy="16">+ getClone()</tspan><tspan x="512" dy="16">+ isSubscribe()</tspan><tspan x="512" dy="16">+ send()</tspan><tspan x="512" dy="16">+ getSubscribeQos()</tspan><tspan x="512" dy="16">+ getSubscribeKey()</tspan><tspan x="512" dy="16">+ getSubscribeReturnQos()</tspan><tspan x="512" dy="16">+ toXml()</tspan></text>
</g>
</g>
</svg>
